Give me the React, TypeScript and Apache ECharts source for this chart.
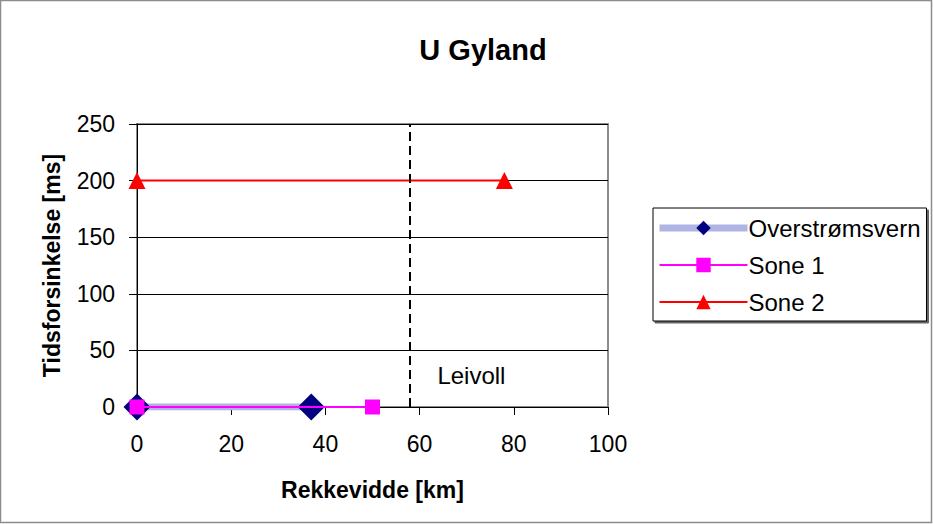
import React, { useEffect, useRef } from "react";
import * as echarts from "echarts";

const title = "U Gyland";
const xName = "Rekkevidde [km]";
const yName = "Tidsforsinkelse [ms]";
const seriesNames = ["Overstrømsvern", "Sone 1", "Sone 2"];
const overstromX = [0, 37];
const overstromY = [0, 0];
const sone1X = [0, 50];
const sone1Y = [0, 0];
const sone2X = [0, 78];
const sone2Y = [200, 200];
const stationX = 58;
const stationName = "Leivoll";
const stationLabelPos = [71, 28];

const pairs = (xs: number[], ys: number[]) => xs.map((x, i) => [x, ys[i]]);

export default function App() {
  const ref = useRef<HTMLDivElement>(null);
  useEffect(() => {
    if (!ref.current) return;
    const chart = echarts.init(ref.current, undefined, { renderer: "svg" });
    const font = "Liberation Sans, Arial, sans-serif";
    chart.setOption({
      animation: false,
      backgroundColor: "#fff",
      textStyle: { fontFamily: font },
      title: {
        text: title,
        left: 478,
        textAlign: "center",
        top: 30,
        textStyle: { fontSize: 29, fontWeight: "bold", color: "#000", fontFamily: font },
      },
      grid: {
        left: 137,
        right: 325,
        top: 124,
        bottom: 117,
        show: true,
        borderColor: "#8c8c8c",
        borderWidth: 2,
        backgroundColor: "#fff",
      },
      legend: {
        left: 653,
        top: 208,
        orient: "vertical",
        itemWidth: 88,
        itemHeight: 18,
        itemGap: 13,
        padding: [8, 6, 7, 3],
        borderColor: "#000",
        borderWidth: 1,
        shadowColor: "rgba(0,0,0,0.6)",
        shadowOffsetX: 2,
        shadowOffsetY: 2,
        shadowBlur: 0,
        backgroundColor: "#fff",
        textStyle: { fontSize: 24, color: "#000", fontFamily: font, padding: [0, 0, 0, -4] },
        data: [
          { name: seriesNames[0], lineStyle: { width: 7, color: "#b0b4e2" } },
          { name: seriesNames[1], lineStyle: { width: 2 } },
          { name: seriesNames[2], lineStyle: { width: 2 } },
        ],
      },
      xAxis: {
        type: "value",
        min: 0,
        max: 100,
        interval: 20,
        name: xName,
        nameLocation: "middle",
        nameGap: 71,
        nameTextStyle: { fontSize: 23, fontWeight: "bold", color: "#000", fontFamily: font },
        axisLine: { lineStyle: { color: "#000", width: 1 } },
        axisTick: { show: true, inside: false, length: 8, lineStyle: { color: "#000" } },
        axisLabel: { fontSize: 23, color: "#000", margin: 25, fontFamily: font },
        splitLine: { show: false },
      },
      yAxis: {
        type: "value",
        min: 0,
        max: 250,
        interval: 50,
        name: yName,
        nameLocation: "middle",
        nameGap: 74,
        nameTextStyle: { fontSize: 23, fontWeight: "bold", color: "#000", fontFamily: font },
        axisLine: { show: true, lineStyle: { color: "#000", width: 1 } },
        axisTick: { show: true, inside: false, length: 8, lineStyle: { color: "#000" } },
        axisLabel: { fontSize: 23, color: "#000", margin: 22, fontFamily: font },
        splitLine: { show: true, lineStyle: { color: "#000", width: 1 } },
      },
      series: [
        {
          name: seriesNames[0],
          type: "line",
          data: pairs(overstromX, overstromY),
          symbol: "diamond",
          symbolSize: 27,
          itemStyle: { color: "#000080" },
          lineStyle: { color: "#b0b4e2", width: 7 },
          z: 2,
          markLine: {
            silent: true,
            symbol: "none",
            label: { show: false },
            lineStyle: { color: "#000", type: [9, 5], width: 2 },
            data: [[{ coord: [stationX, 0] }, { coord: [stationX, 250] }]],
          },
        },
        {
          name: seriesNames[1],
          type: "line",
          data: pairs(sone1X, sone1Y),
          symbol: "rect",
          symbolSize: 15,
          itemStyle: { color: "#ff00ff" },
          lineStyle: { color: "#ff00ff", width: 2 },
          z: 3,
        },
        {
          name: seriesNames[2],
          type: "line",
          data: pairs(sone2X, sone2Y),
          symbol: "triangle",
          symbolSize: 17,
          itemStyle: { color: "#ff0000" },
          lineStyle: { color: "#ff0000", width: 2 },
          z: 3,
        },
        {
          name: "label",
          type: "scatter",
          data: [stationLabelPos],
          symbolSize: 1,
          silent: true,
          itemStyle: { opacity: 1, color: "rgba(0,0,0,0)" },
          label: {
            show: true,
            formatter: stationName,
            fontSize: 24,
            color: "#000",
            opacity: 1,
            textBorderWidth: 0,
            fontFamily: font,
            position: "inside",
          },
        },
      ],
      graphic: [
        {
          type: "rect",
          shape: { x: 0.5, y: 0.5, width: 931, height: 522 },
          style: { fill: "none", stroke: "#8c8c8c", lineWidth: 1.5 },
          silent: true,
        },
      ],
    });
    return () => chart.dispose();
  }, []);
  return <div ref={ref} style={{ width: 933, height: 524, position: "absolute", left: 0, top: 0 }} />;
}
